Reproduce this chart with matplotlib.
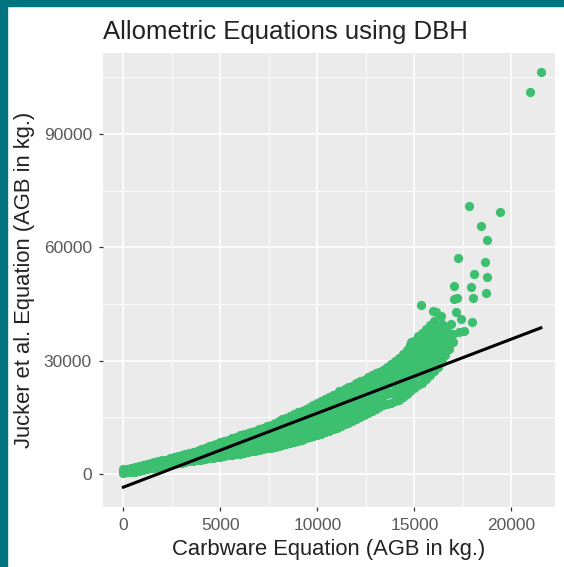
import numpy as np
import matplotlib.pyplot as plt
from matplotlib.patches import Rectangle

plt.rcParams['font.family'] = ['Liberation Sans', 'DejaVu Sans']

# main cloud of trees, AGB in thousands of kg (Carbware on x, Jucker et al. on y)
band_x = [0.0, 0.2, 0.4, 0.6, 0.8, 1.0, 1.2, 1.4, 1.6, 1.8, 2.0, 2.2, 2.4, 2.6,
          2.8, 3.0, 3.2, 3.4, 3.6, 3.8, 4.0, 4.2, 4.4, 4.6, 4.8, 5.0, 5.2, 5.4,
          5.6, 5.8, 6.0, 6.2, 6.4, 6.6, 6.8, 7.0, 7.2, 7.4, 7.6, 7.8, 8.0, 8.2,
          8.4, 8.6, 8.8, 9.0, 9.2, 9.4, 9.6, 9.8, 10.0, 10.2, 10.4, 10.6, 10.8,
          11.0, 11.2, 11.4, 11.6, 11.8, 12.0, 12.2, 12.4, 12.6, 12.8, 13.0,
          13.2, 13.4, 13.6, 13.8, 14.0, 14.2, 14.4, 14.6, 14.8, 15.0, 15.2,
          15.4, 15.6, 15.8, 16.0, 16.2, 16.4, 16.6, 16.8, 17.0]
band_y = [
    [0.3, 0.8, 1.2], [0.4, 0.9, 1.4], [0.5, 1.1, 1.6], [0.6, 1.2, 1.8],
    [0.8, 1.4, 2.1], [1.0, 1.7, 2.4], [1.2, 1.9, 2.6], [1.5, 2.2, 2.9],
    [1.7, 2.4, 3.1], [1.9, 2.6, 3.3], [2.1, 2.8, 3.6], [2.4, 3.1, 3.8],
    [2.5, 3.3, 4.1], [2.7, 3.5, 4.4], [2.9, 3.8, 4.7], [3.0, 4.0, 5.0],
    [3.2, 4.2, 5.3], [3.3, 4.4, 5.6], [3.5, 4.7, 5.9], [3.6, 4.9, 6.2],
    [3.8, 5.2, 6.6], [3.9, 5.4, 6.9], [4.1, 5.7, 7.3], [4.2, 5.9, 7.6],
    [4.4, 5.6, 6.8, 8.0], [4.6, 5.9, 7.1, 8.4], [4.7, 6.0, 7.4, 8.7],
    [4.9, 6.3, 7.7, 9.1], [5.0, 6.5, 8.0, 9.5], [5.2, 6.7, 8.3, 9.8],
    [5.4, 7.0, 8.6, 10.2], [5.6, 7.2, 8.9, 10.5], [5.8, 7.5, 9.1, 10.8],
    [6.0, 7.7, 9.5, 11.2], [6.2, 8.0, 9.7, 11.5], [6.4, 8.2, 10.1, 11.9],
    [6.6, 8.5, 10.3, 12.2], [6.8, 8.7, 10.7, 12.6], [7.0, 9.0, 11.0, 13.0],
    [7.2, 9.3, 11.4, 13.5], [7.5, 9.1, 10.9, 12.4, 14.0],
    [7.7, 9.4, 11.1, 12.8, 14.5], [7.9, 9.6, 11.4, 13.1, 14.9],
    [8.1, 9.9, 11.7, 13.6, 15.4], [8.4, 10.3, 12.1, 14.0, 15.9],
    [8.7, 10.6, 12.5, 14.4, 16.3], [9.0, 10.9, 12.9, 14.8, 16.8],
    [9.4, 11.4, 13.4, 15.3, 17.3], [9.7, 11.7, 13.7, 15.8, 17.8],
    [10.0, 12.1, 14.1, 16.2, 18.3], [10.4, 12.5, 14.6, 16.8, 18.9],
    [10.7, 12.9, 15.0, 17.2, 19.4], [11.0, 13.2, 15.4, 17.7, 19.9],
    [11.4, 13.6, 15.9, 18.1, 20.3], [11.8, 14.0, 16.3, 18.6, 20.8],
    [12.2, 14.5, 16.8, 19.0, 21.3], [12.7, 15.0, 17.3, 19.6, 21.9],
    [13.1, 15.4, 17.8, 20.1, 22.4], [13.6, 15.9, 18.3, 20.6, 22.9],
    [14.0, 16.4, 18.7, 21.1, 23.4], [14.5, 16.9, 19.3, 21.6, 24.0],
    [15.1, 17.5, 19.8, 22.2, 24.5], [15.6, 17.9, 20.3, 22.7, 25.0],
    [16.2, 18.5, 20.9, 23.2, 25.6], [16.7, 19.0, 21.4, 23.8, 26.1],
    [17.3, 19.6, 21.9, 24.3, 26.6], [17.8, 20.1, 22.5, 24.8, 27.1],
    [18.3, 20.6, 23.0, 25.3, 27.6], [18.6, 21.1, 23.5, 26.0, 28.4],
    [18.9, 21.5, 24.0, 26.6, 29.1], [19.3, 21.4, 23.5, 25.7, 27.8, 29.9],
    [19.5, 21.7, 23.8, 26.0, 28.5, 30.7], [20.4, 22.7, 24.9, 27.2, 29.5, 31.8],
    [21.2, 23.5, 25.9, 28.2, 30.6, 32.9], [22.0, 24.4, 26.8, 29.3, 31.7, 34.1],
    [22.8, 25.3, 27.8, 30.2, 32.7, 35.2], [23.6, 26.2, 28.7, 31.3, 33.8, 36.4],
    [24.1, 26.8, 29.4, 32.1, 34.7, 37.4], [25.1, 27.8, 30.4, 33.1, 35.8, 38.4],
    [26.2, 28.8, 31.5, 34.1, 36.8, 39.4], [27.3, 29.9, 32.5, 35.2, 37.8, 40.4],
    [28.4, 31.0, 33.6, 36.2, 38.7], [29.7, 32.2, 34.7, 37.2, 39.7],
    [31.5, 33.8, 36.1, 38.4], [33.2, 35.3, 37.4], [35.0, 37.0],
]

# the sparse large trees
tail_x = [21.52, 20.97, 17.80, 19.41, 18.43, 18.72, 17.23, 18.66, 18.09, 18.72,
          17.06, 17.92, 17.20, 18.00, 18.69, 15.35, 16.12, 16.38, 17.15, 17.41,
          17.97, 16.55, 16.89, 17.32, 17.58, 14.83, 15.60, 16.20, 15.94, 17.06,
          11.14]
tail_y = [106.5, 101.0, 71.0, 69.4, 65.7, 62.0, 57.1, 56.0, 52.9, 52.2,
          49.8, 49.4, 46.5, 46.5, 47.8, 44.7, 43.0, 41.9, 42.8, 41.0,
          40.2, 39.3, 39.7, 37.5, 37.9, 34.9, 36.6, 34.9, 43.2, 46.3,
          22.0]

# linear fit Jucker ~ Carbware (kg)
fit_intercept = -3500
fit_slope = 1.96

carb = []
juck = []
for x, ys in zip(band_x, band_y):
    carb += [x] * len(ys)
    juck += ys
carb = np.array(carb + tail_x) * 1000
juck = np.array(juck + tail_y) * 1000

fig = plt.figure(figsize=(5.64, 5.67), dpi=100)
fig.patches.append(Rectangle((0, 0), 7 / 564, 1, transform=fig.transFigure,
                             color='#00757f', zorder=0))
fig.patches.append(Rectangle((0, 1 - 6 / 567), 1, 6 / 567, transform=fig.transFigure,
                             color='#00757f', zorder=0))

ax = fig.add_axes([103 / 564, 59.8 / 567, 452 / 564, 454.4 / 567])
ax.set_facecolor('#ebebeb')
for s in ax.spines.values():
    s.set_visible(False)

ax.scatter(carb, juck, s=44, color='#3dbf70', linewidths=0, zorder=3)
xl = np.array([0, carb.max()])
ax.plot(xl, fit_intercept + fit_slope * xl, color='black', lw=2.2, zorder=4)

ax.set_xlim(-1050, 22250)
ax.set_ylim(-8800, 111500)
ax.set_xticks([0, 5000, 10000, 15000, 20000])
ax.set_yticks([0, 30000, 60000, 90000])
ax.set_xticks([2500, 7500, 12500, 17500], minor=True)
ax.set_yticks([15000, 45000, 75000, 105000], minor=True)
ax.grid(which='major', color='white', lw=1.2, zorder=0)
ax.grid(which='minor', color='white', lw=0.6, zorder=0)
ax.set_axisbelow(True)
ax.tick_params(which='major', length=3, width=0.9, color='#333333',
               labelcolor='#5a5a5a', labelsize=12.5, pad=5)
ax.tick_params(which='minor', length=0)

ax.set_xlabel('Carbware Equation (AGB in kg.)', fontsize=15.8, color='#222222')
ax.set_ylabel('Jucker et al. Equation (AGB in kg.)', fontsize=15.8, color='#222222')
ax.xaxis.set_label_coords(0.5, -0.070)
ax.yaxis.set_label_coords(-0.150, 0.5)
ax.set_title('Allometric Equations using DBH', loc='left', fontsize=18.5,
             color='#222222', pad=10)

fig.savefig('out.png', dpi=100)
